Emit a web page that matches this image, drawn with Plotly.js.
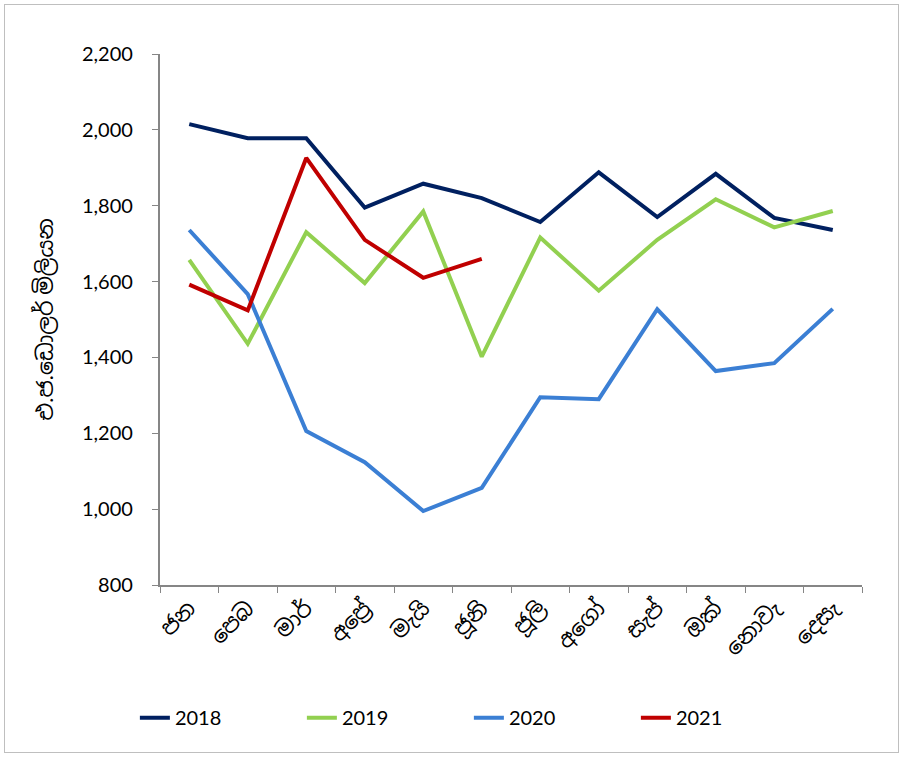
<!DOCTYPE html>
<html><head><meta charset="utf-8">
<script src="https://cdn.plot.ly/plotly-3.0.1.min.js"></script>
<style>
html,body{margin:0;padding:0;background:#fff;}
#wrap{position:absolute;left:4px;top:4px;width:893px;height:747px;border:1px solid #bfbfbf;}
#chart{position:absolute;left:-5px;top:-5px;width:903px;height:757px;}
</style></head><body>
<div id="wrap"><div id="chart"></div></div>
<script>
const months = ['ජන','පෙබ','මාර්','අප්‍රේ','මැයි','ජූනි','ජූලි','අගෝ','සැප්','ඔක්','නොවැ','දෙසැ'];
const y2018 = [2015, 1978, 1978, 1795, 1858, 1820, 1757, 1888, 1770, 1884, 1768, 1736];
const y2019 = [1657, 1436, 1730, 1596, 1785, 1402, 1716, 1576, 1710, 1817, 1743, 1786];
const y2020 = [1736, 1567, 1206, 1124, 995, 1056, 1295, 1290, 1527, 1364, 1385, 1528];
const y2021 = [1592, 1524, 1926, 1710, 1610, 1660];
const seriesNames = ['2018','2019','2020','2021'];
const colors = ['#002060','#92D050','#3B7FD4','#C00000'];
const data = [y2018,y2019,y2020,y2021].map((v,i)=>({
  x: months.slice(0, v.length), y: v, name: seriesNames[i], type:'scatter', mode:'lines',
  line:{color:colors[i], width:4}
}));
const font = 'Lato, "Noto Sans", "Noto Sans Sinhala", sans-serif';
const layout = {
  width:903, height:757,
  margin:{l:160, r:41, t:54, b:172},
  paper_bgcolor:'rgba(0,0,0,0)', plot_bgcolor:'#fff',
  font:{family:font, size:17, color:'#000'},
  showlegend:true,
  legend:{orientation:'h', yref:'container', x:0.44, xanchor:'center', y:0.052, yanchor:'middle',
    font:{size:20}, entrywidth:122, entrywidthmode:'pixels', traceorder:'normal'},
  xaxis:{type:'category', categoryarray:months, categoryorder:'array',
    showline:true, linecolor:'#868686', linewidth:1.5, ticks:'outside', tickcolor:'#868686',
    ticklen:6, tickson:'boundaries', tickangle:-45, showgrid:false, zeroline:false,
    range:[-0.5,11.5], tickfont:{size:22}},
  yaxis:{range:[800,2200], dtick:200, tickformat:',d', showline:true, linecolor:'#868686', linewidth:1.5,
    ticks:'outside', tickcolor:'#868686', ticklen:6, showgrid:false, zeroline:false,
    tickfont:{size:20}, ticksuffix:'   ',
    title:{text:'එ.ජ.ඩොලර් මිලියන', font:{size:22}, standoff:22}}
};
Plotly.newPlot('chart', data, layout, {displayModeBar:false});
</script></body></html>
